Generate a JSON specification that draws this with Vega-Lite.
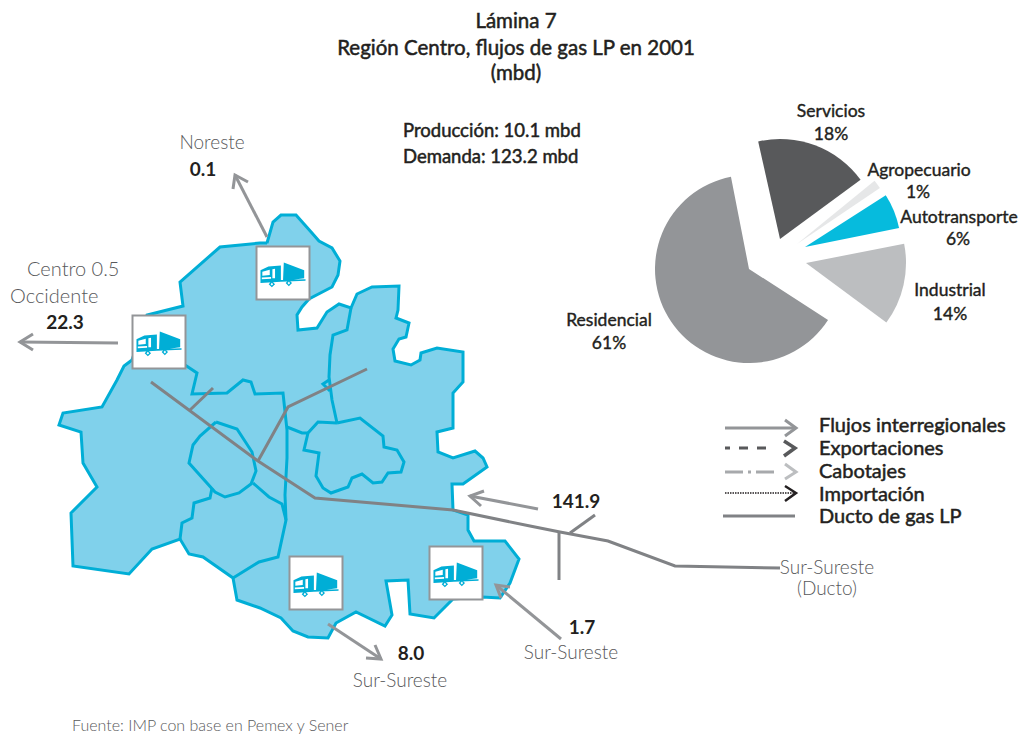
{
"$schema":"https://vega.github.io/schema/vega-lite/v6.json",
"width":1019,"height":736,"autosize":{"type":"fit","contains":"padding"},"padding":0,"background":"white",
"config":{"view":{"stroke":null}},
"datasets":{
"regions":[
{"g":"outline","x":267,"y":243},{"g":"outline","x":273,"y":222},{"g":"outline","x":281,"y":215},{"g":"outline","x":296,"y":215},{"g":"outline","x":312,"y":233},{"g":"outline","x":319,"y":241},{"g":"outline","x":332,"y":248},{"g":"outline","x":340,"y":261},{"g":"outline","x":338,"y":275},{"g":"outline","x":332,"y":287},{"g":"outline","x":309,"y":299},{"g":"outline","x":302,"y":307},{"g":"outline","x":297,"y":315},{"g":"outline","x":298,"y":330},{"g":"outline","x":317,"y":328},{"g":"outline","x":327,"y":312},{"g":"outline","x":339,"y":304},{"g":"outline","x":351,"y":308},{"g":"outline","x":357,"y":294},{"g":"outline","x":372,"y":287},{"g":"outline","x":399,"y":286},{"g":"outline","x":398,"y":310},{"g":"outline","x":396,"y":318},{"g":"outline","x":409,"y":323},{"g":"outline","x":406,"y":337},{"g":"outline","x":399,"y":339},{"g":"outline","x":393,"y":349},{"g":"outline","x":395,"y":361},{"g":"outline","x":411,"y":365},{"g":"outline","x":420,"y":360},{"g":"outline","x":421,"y":353},{"g":"outline","x":437,"y":348},{"g":"outline","x":463,"y":352},{"g":"outline","x":463,"y":382},{"g":"outline","x":453,"y":393},{"g":"outline","x":453,"y":428},{"g":"outline","x":437,"y":432},{"g":"outline","x":438,"y":452},{"g":"outline","x":453,"y":458},{"g":"outline","x":475,"y":451},{"g":"outline","x":483,"y":458},{"g":"outline","x":487,"y":467},{"g":"outline","x":463,"y":484},{"g":"outline","x":452,"y":484},{"g":"outline","x":453,"y":510},{"g":"outline","x":468,"y":515},{"g":"outline","x":468,"y":530},{"g":"outline","x":474,"y":541},{"g":"outline","x":505,"y":541},{"g":"outline","x":519,"y":559},{"g":"outline","x":510,"y":583},{"g":"outline","x":500,"y":598},{"g":"outline","x":482,"y":597},{"g":"outline","x":453,"y":599},{"g":"outline","x":434,"y":618},{"g":"outline","x":410,"y":614},{"g":"outline","x":408,"y":580},{"g":"outline","x":386,"y":581},{"g":"outline","x":392,"y":615},{"g":"outline","x":385,"y":626},{"g":"outline","x":356,"y":612},{"g":"outline","x":336,"y":623},{"g":"outline","x":328,"y":638},{"g":"outline","x":308,"y":637},{"g":"outline","x":293,"y":631},{"g":"outline","x":281,"y":618},{"g":"outline","x":260,"y":608},{"g":"outline","x":237,"y":600},{"g":"outline","x":233,"y":578},{"g":"outline","x":203,"y":557},{"g":"outline","x":189,"y":554},{"g":"outline","x":180,"y":539},{"g":"outline","x":152,"y":549},{"g":"outline","x":129,"y":574},{"g":"outline","x":73,"y":566},{"g":"outline","x":71,"y":513},{"g":"outline","x":97,"y":487},{"g":"outline","x":83,"y":463},{"g":"outline","x":81,"y":432},{"g":"outline","x":59,"y":425},{"g":"outline","x":63,"y":413},{"g":"outline","x":102,"y":407},{"g":"outline","x":117,"y":380},{"g":"outline","x":124,"y":366},{"g":"outline","x":132,"y":360},{"g":"outline","x":147,"y":315},{"g":"outline","x":183,"y":306},{"g":"outline","x":180,"y":282},{"g":"outline","x":220,"y":247},{"g":"outline","x":260,"y":243},{"g":"outline","x":267,"y":243}
],
"borders":[
{"g":"a","x":185,"y":365},{"g":"a","x":197,"y":373},{"g":"a","x":192,"y":394},{"g":"a","x":227,"y":393},{"g":"a","x":243,"y":380},{"g":"a","x":251,"y":382},{"g":"a","x":255,"y":394},{"g":"a","x":283,"y":393},{"g":"a","x":287,"y":430},{"g":"a","x":287,"y":458},{"g":"a","x":285,"y":495},{"g":"a","x":286,"y":520},{"g":"a","x":278,"y":557},{"g":"a","x":259,"y":562},{"g":"a","x":233,"y":578},
{"g":"b","x":216,"y":422},{"g":"b","x":237,"y":429},{"g":"b","x":252,"y":452},{"g":"b","x":256,"y":471},{"g":"b","x":251,"y":484},{"g":"b","x":239,"y":493},{"g":"b","x":225,"y":497},{"g":"b","x":215,"y":492},{"g":"b","x":189,"y":463},{"g":"b","x":193,"y":445},{"g":"b","x":200,"y":436},{"g":"b","x":216,"y":422},
{"g":"c","x":212,"y":488},{"g":"c","x":210,"y":498},{"g":"c","x":194,"y":503},{"g":"c","x":192,"y":518},{"g":"c","x":182,"y":523},{"g":"c","x":180,"y":539},
{"g":"d","x":253,"y":483},{"g":"d","x":269,"y":497},{"g":"d","x":282,"y":504},{"g":"d","x":286,"y":520},
{"g":"e","x":351,"y":308},{"g":"e","x":347,"y":330},{"g":"e","x":333,"y":335},{"g":"e","x":330,"y":355},{"g":"e","x":329,"y":377},{"g":"e","x":332,"y":400},{"g":"e","x":337,"y":423},
{"g":"f","x":337,"y":423},{"g":"f","x":360,"y":418},{"g":"f","x":383,"y":436},{"g":"f","x":384,"y":447},{"g":"f","x":397,"y":450},{"g":"f","x":404,"y":462},{"g":"f","x":401,"y":472},{"g":"f","x":388,"y":473},{"g":"f","x":382,"y":482},{"g":"f","x":373,"y":483},{"g":"f","x":362,"y":474},{"g":"f","x":352,"y":478},{"g":"f","x":348,"y":487},{"g":"f","x":331,"y":493},{"g":"f","x":323,"y":488},{"g":"f","x":316,"y":476},{"g":"f","x":319,"y":453},{"g":"f","x":304,"y":450},{"g":"f","x":308,"y":433},{"g":"f","x":318,"y":422},{"g":"f","x":337,"y":423},
{"g":"h","x":287,"y":427},{"g":"h","x":302,"y":433},{"g":"h","x":308,"y":433},
{"g":"i","x":329,"y":380},{"g":"i","x":323,"y":384},{"g":"i","x":330,"y":391}
],
"ducts":[
{"g":"main","x":151,"y":382},{"g":"main","x":258,"y":461},{"g":"main","x":315,"y":498},{"g":"main","x":453,"y":510},{"g":"main","x":530,"y":526},{"g":"main","x":560,"y":532},{"g":"main","x":608,"y":541},{"g":"main","x":675,"y":566},{"g":"main","x":780,"y":568},
{"g":"b1","x":190,"y":410},{"g":"b1","x":213,"y":388},
{"g":"b2","x":258,"y":461},{"g":"b2","x":288,"y":407},{"g":"b2","x":367,"y":369},
{"g":"b3","x":559,"y":580},{"g":"b3","x":559,"y":532},
{"g":"b4","x":570,"y":533},{"g":"b4","x":595,"y":515},
{"g":"legend","x":723,"y":516},{"g":"legend","x":795,"y":516}
],
"flows":[
{"g":"n","x":267,"y":237},{"g":"n","x":235,"y":175},
{"g":"nh","x":233,"y":189},{"g":"nh","x":235,"y":175},{"g":"nh","x":248,"y":182},
{"g":"w","x":118,"y":343},{"g":"w","x":20,"y":342},
{"g":"wh","x":33,"y":334},{"g":"wh","x":20,"y":342},{"g":"wh","x":33,"y":350},
{"g":"t","x":538,"y":509},{"g":"t","x":470,"y":496},
{"g":"th","x":484,"y":491},{"g":"th","x":470,"y":496},{"g":"th","x":481,"y":506},
{"g":"s","x":328,"y":624},{"g":"s","x":381,"y":659},
{"g":"sh","x":375,"y":645},{"g":"sh","x":381,"y":659},{"g":"sh","x":366,"y":658},
{"g":"e","x":561,"y":639},{"g":"e","x":496,"y":585},
{"g":"eh","x":510,"y":587},{"g":"eh","x":496,"y":585},{"g":"eh","x":501,"y":598},
{"g":"l","x":725,"y":428},{"g":"l","x":795,"y":428},
{"g":"lh","x":785,"y":420},{"g":"lh","x":796,"y":428},{"g":"lh","x":785,"y":436}
],
"boxes":[{"x":159,"y":342},{"x":283,"y":273},{"x":316,"y":583},{"x":456,"y":573}],
"pie":[
{"sector":"Residencial","x":749,"y":269,"start":2.143,"end":6.09,"r":94},
{"sector":"Servicios","x":780,"y":239,"start":-0.22,"end":0.937,"r":100},
{"sector":"Agropecuario","x":797,"y":244,"start":0.887,"end":0.977,"r":100},
{"sector":"Autotransporte","x":805,"y":247,"start":1.0,"end":1.372,"r":96},
{"sector":"Industrial","x":806,"y":263,"start":1.377,"end":2.208,"r":100}
],
"titles":[{"t":"Lámina 7","x":516,"y":21},{"t":"Región Centro, flujos de gas LP en 2001","x":516,"y":48},{"t":"(mbd)","x":516,"y":73}],
"stats":[{"t":"Producción: 10.1 mbd","x":403,"y":131},{"t":"Demanda: 123.2 mbd","x":403,"y":157}],
"places":[{"t":"Noreste","x":212,"y":143},{"t":"Sur-Sureste","x":400,"y":681},{"t":"Sur-Sureste","x":571,"y":653},{"t":"Sur-Sureste","x":827,"y":568},{"t":"(Ducto)","x":827,"y":589}],
"placesLeft":[{"t":"Centro   0.5","x":27,"y":270},{"t":"Occidente","x":10,"y":297}],
"numbers":[{"t":"0.1","x":203,"y":170},{"t":"22.3","x":65,"y":323},{"t":"141.9","x":576,"y":502},{"t":"8.0","x":411,"y":654},{"t":"1.7","x":582,"y":628}],
"pieLabels":[{"t":"Servicios","x":831,"y":111},{"t":"18%","x":831,"y":134},{"t":"Agropecuario","x":919,"y":170},{"t":"1%","x":918,"y":192},{"t":"Autotransporte","x":959,"y":217},{"t":"6%","x":958,"y":239},{"t":"Industrial","x":950,"y":290},{"t":"14%","x":950,"y":314},{"t":"Residencial","x":609,"y":320},{"t":"61%","x":609,"y":343}],
"legendLabels":[{"t":"Flujos interregionales","x":819,"y":426},{"t":"Exportaciones","x":819,"y":449},{"t":"Cabotajes","x":819,"y":472},{"t":"Importación","x":819,"y":495},{"t":"Ducto de gas LP","x":819,"y":517}],
"source":[{"t":"Fuente: IMP con base en Pemex y Sener","x":72,"y":726}],
"exp":[{"g":"l","x":725,"y":448},{"g":"l","x":773,"y":448}],
"exph":[{"g":"h","x":784,"y":441},{"g":"h","x":795,"y":448},{"g":"h","x":784,"y":456}],
"cab":[{"g":"l","x":725,"y":472},{"g":"l","x":775,"y":472}],
"cabh":[{"g":"h","x":785,"y":464},{"g":"h","x":796,"y":472},{"g":"h","x":785,"y":479}],
"imp":[{"g":"l","x":725,"y":493},{"g":"l","x":794,"y":493}],
"imph":[{"g":"h","x":785,"y":486},{"g":"h","x":796,"y":493},{"g":"h","x":785,"y":501}]
},
"encoding":{
"x":{"field":"x","type":"quantitative","axis":null,"scale":{"domain":[0,1019],"nice":false,"zero":false}},
"y":{"field":"y","type":"quantitative","axis":null,"scale":{"domain":[736,0],"nice":false,"zero":false}},
"order":{"value":null}
},
"layer":[
{"data":{"name":"regions"},"mark":{"type":"line","fill":"#80d1eb","stroke":"#00aed6","strokeWidth":3,"strokeJoin":"miter"},"encoding":{"detail":{"field":"g"}}},
{"data":{"name":"borders"},"mark":{"type":"line","stroke":"#00aed6","strokeWidth":3},"encoding":{"detail":{"field":"g"}}},
{"data":{"name":"ducts"},"mark":{"type":"line","stroke":"#808285","strokeWidth":3},"encoding":{"detail":{"field":"g"}}},
{"data":{"name":"flows"},"mark":{"type":"line","stroke":"#939598","strokeWidth":3},"encoding":{"detail":{"field":"g"}}},
{"data":{"name":"exp"},"mark":{"type":"line","stroke":"#58595b","strokeWidth":3,"strokeDash":[9,9],"strokeDashOffset":4}},
{"data":{"name":"exph"},"mark":{"type":"line","stroke":"#58595b","strokeWidth":3.5}},
{"data":{"name":"cab"},"mark":{"type":"line","stroke":"#a7a9ac","strokeWidth":3,"strokeDash":[18,5,3,5]}},
{"data":{"name":"cabh"},"mark":{"type":"line","stroke":"#bcbec0","strokeWidth":3}},
{"data":{"name":"imp"},"mark":{"type":"line","stroke":"#231f20","strokeWidth":1.3,"strokeDash":[1.5,1]}},
{"data":{"name":"imph"},"mark":{"type":"line","stroke":"#231f20","strokeWidth":2.5}},
{"data":{"name":"boxes"},"mark":{"type":"point","shape":"square","size":2809,"filled":true,"fill":"white","stroke":"#939598","strokeWidth":2,"opacity":1}},
{"data":{"name":"boxes"},"mark":{"type":"point","filled":true,"fill":"#00aed6","stroke":null,"opacity":1,"size":2809,"shape":"M0.03 -0.4 L0.8 -0.1 L0.8 0.2 L0.0 0.3 Z M-0.85 -0.1 L-0.55 -0.25 L-0.08 -0.28 L-0.08 0.33 L-0.85 0.38 Z M-0.78 -0.05 L-0.78 0.1 L-0.5 0.08 L-0.5 -0.12 Z M-0.4 -0.14 L-0.4 0.2 L-0.3 0.2 L-0.3 -0.16 Z M-0.8 0.17 L-0.8 0.24 L-0.45 0.22 L-0.45 0.15 Z M-0.08 0.26 L0.85 0.24 L0.85 0.29 L-0.08 0.33 Z M-0.54 0.42 L-0.42 0.3 L-0.3 0.42 L-0.42 0.54 Z M-0.47 0.42 L-0.42 0.47 L-0.37 0.42 L-0.42 0.37 Z M0.1 0.38 L0.22 0.26 L0.34 0.38 L0.22 0.5 Z M0.17 0.38 L0.22 0.43 L0.27 0.38 L0.22 0.33 Z"}},
{"data":{"name":"pie"},"mark":{"type":"arc"},"encoding":{
"theta":{"field":"start","type":"quantitative","scale":null},
"theta2":{"field":"end"},
"radius":{"field":"r","type":"quantitative","scale":null},
"color":{"field":"sector","type":"nominal","legend":null,"scale":{"domain":["Residencial","Servicios","Agropecuario","Autotransporte","Industrial"],"range":["#939598","#58595b","#e6e7e8","#06bbdd","#bcbec0"]}}}},
{"data":{"name":"titles"},"mark":{"type":"text","font":"Lato","fontSize":20.5,"fontWeight":"normal","stroke":"#231f20","strokeWidth":0.5,"dy":1,"align":"center","baseline":"middle","fill":"#231f20"},"encoding":{"text":{"field":"t"}}},
{"data":{"name":"stats"},"mark":{"type":"text","font":"Lato","fontSize":18.5,"fontWeight":"normal","stroke":"#231f20","strokeWidth":0.5,"align":"left","baseline":"middle","fill":"#231f20"},"encoding":{"text":{"field":"t"}}},
{"data":{"name":"places"},"mark":{"type":"text","font":"Lato","fontSize":19,"fontWeight":300,"align":"center","baseline":"middle","fill":"#58595b"},"encoding":{"text":{"field":"t"}}},
{"data":{"name":"placesLeft"},"mark":{"type":"text","font":"Lato","fontSize":20,"fontWeight":300,"align":"left","baseline":"middle","fill":"#58595b"},"encoding":{"text":{"field":"t"}}},
{"data":{"name":"numbers"},"mark":{"type":"text","font":"Lato","fontSize":19,"fontWeight":"bold","align":"center","baseline":"middle","fill":"#231f20"},"encoding":{"text":{"field":"t"}}},
{"data":{"name":"pieLabels"},"mark":{"type":"text","font":"Lato","fontSize":17.5,"fontWeight":"normal","stroke":"#231f20","strokeWidth":0.4,"dy":1,"align":"center","baseline":"middle","fill":"#231f20"},"encoding":{"text":{"field":"t"}}},
{"data":{"name":"legendLabels"},"mark":{"type":"text","font":"Lato","fontSize":20,"fontWeight":"normal","stroke":"#231f20","strokeWidth":0.5,"align":"left","baseline":"middle","fill":"#231f20"},"encoding":{"text":{"field":"t"}}},
{"data":{"name":"source"},"mark":{"type":"text","font":"Lato","fontSize":16,"fontWeight":300,"align":"left","baseline":"middle","fill":"#58595b"},"encoding":{"text":{"field":"t"}}}
]
}
